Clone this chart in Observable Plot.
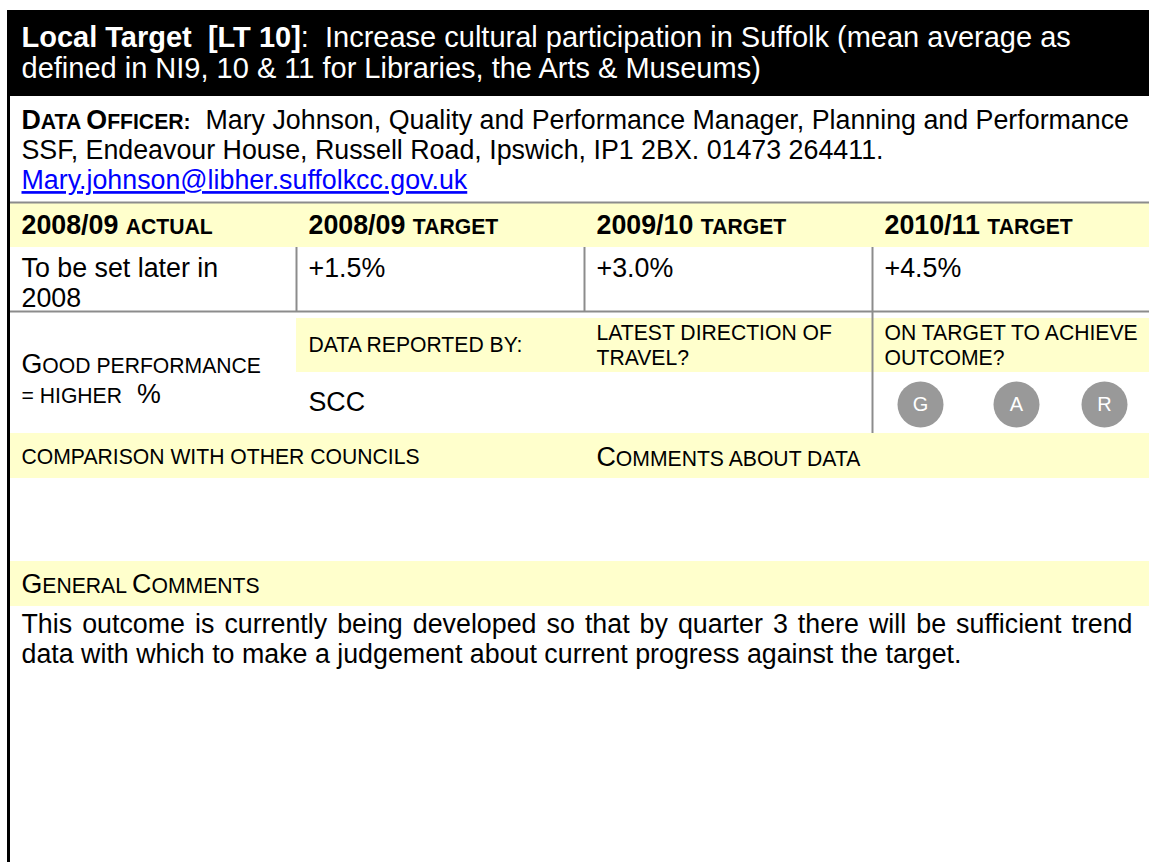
<!DOCTYPE html>
<html>
<head>
<meta charset="utf-8">
<script src="https://cdn.jsdelivr.net/npm/d3@7"></script>
<script src="https://cdn.jsdelivr.net/npm/@observablehq/plot@0.6"></script>
<style>
  html, body { margin: 0; padding: 0; background: #ffffff; }
  #chart svg { display: block; }
</style>
</head>
<body>
<div id="chart"></div>
<script>
// ---------------- data (text content) ----------------
const targetTitle = "Local Target  [LT 10]";
const targetDesc = [
  "Increase cultural participation in Suffolk (mean average as",
  "defined in NI9, 10 & 11 for Libraries, the Arts & Museums)"
];
const officerLabel = "Data Officer:";
const officerLines = [
  "Mary Johnson, Quality and Performance Manager, Planning and Performance",
  "SSF, Endeavour House, Russell Road, Ipswich, IP1 2BX. 01473 264411."
];
const officerEmail = "Mary.johnson@libher.suffolkcc.gov.uk";
const periods = ["2008/09", "2008/09", "2009/10", "2010/11"];
const measures = ["actual", "target", "target", "target"];
const values = ["To be set later in\n2008", "+1.5%", "+3.0%", "+4.5%"];
const polarity = ["Good performance", "= higher", "%"];
const reportedByLabel = "data reported by:";
const reportedBy = "SCC";
const directionLabel = "latest direction of\ntravel?";
const onTargetLabel = "on target to achieve\noutcome?";
const ragRatings = ["G", "A", "R"];
const comparisonLabel = "comparison with other councils";
const commentsLabel = "Comments about data";
const generalLabel = "General Comments";
const generalComments = [
  "This outcome is currently being developed so that by quarter 3 there will be sufficient trend",
  "data with which to make a judgement about current progress against the target."
];

// ---------------- layout & style ----------------
const W = 1149, H = 862;
const FONT = '"Liberation Sans", Arial, Helvetica, sans-serif';
const FS = 26.8;        // body font size
const FT = 29;          // title font size
const SC = 0.79;        // small-caps ratio
const YEL = "#ffffcc";
const GRID = "#8c8c8c";
const cols = [9, 296, 584, 872, 1149];
const padX = 12;
const step = 30;
const L = {
  title: {y1: 10, y2: 96, y: 37, step: 31},
  officer: {y: 120},
  rule1: 202,
  head: {y1: 202, y2: 247, y: 225},
  vals: {y: 268, y2: 311},
  sub: {y1: 318, y2: 372, y: 333, step: 25, single: 345},
  perf: {y: 364, y2: 433, value: 402},
  rag: {xs: [920, 1016, 1104], y: 404, r: 23, fs: 20},
  comp: {y1: 433, y2: 478, y: 457},
  gen: {y1: 561, y2: 606, y: 584, body: 624},
  justifyTo: 1132
};
const tx = i => cols[i] + padX;

// ---------------- rich text helpers ----------------
const sp = s => s.replace(/  /g, "\u00a0 ");
function plain(str, weight, size = FS) { return [{t: sp(str), size, weight}]; }
function sc(str, weight, size = FS) {
  const runs = [];
  for (const ch of str) {
    let small;
    if (/[a-z]/.test(ch)) small = true;
    else if (/[A-Z0-9%]/.test(ch)) small = false;
    else small = runs.length ? runs[runs.length - 1].small : true;
    const t = small ? ch.toUpperCase() : ch;
    const last = runs[runs.length - 1];
    if (last && last.small === small) last.t += t;
    else runs.push({t, small});
  }
  return runs.map(r => ({t: sp(r.t), size: r.small ? size * SC : size, weight}));
}
const items = [];
function add(segs, x, y, extra = {}) {
  items.push({segs, text: segs.map(s => s.t).join(""), x, y, size: extra.size || FS, fill: extra.fill || "#000000", ...extra});
}
function addLines(str, mk, x, y, extra = {}) {
  str.split("\n").forEach((line, k) => add(mk(line), x, y + k * (extra.step || step), extra));
}

// title (white on black)
add([...plain(targetTitle, "bold", FT), ...plain(":  " + targetDesc[0], null, FT)], tx(0), L.title.y, {fill: "#ffffff", size: FT});
add(plain(targetDesc[1], null, FT), tx(0), L.title.y + L.title.step, {fill: "#ffffff", size: FT});
// data officer
add([...sc(officerLabel, "bold"), ...plain("  " + officerLines[0])], tx(0), L.officer.y);
add(plain(officerLines[1]), tx(0), L.officer.y + step);
add(plain(officerEmail), tx(0), L.officer.y + 2 * step, {fill: "#0000ff", underline: true});
// header row
periods.forEach((p, i) => add([...plain(p + " ", "bold"), ...sc(measures[i], "bold")], tx(i), L.head.y));
// values row
values.forEach((v, i) => addLines(v, s => plain(s), tx(i), L.vals.y));
// performance block
add(sc(polarity[0]), tx(0), L.perf.y);
add([...sc(polarity[1]), ...plain("  " + polarity[2])], tx(0), L.perf.y + step);
add(sc(reportedByLabel), tx(1), L.sub.single, {size: FS * SC});
add(plain(reportedBy), tx(1), L.perf.value);
addLines(directionLabel, s => sc(s), tx(2), L.sub.y, {size: FS * SC, step: L.sub.step});
addLines(onTargetLabel, s => sc(s), tx(3), L.sub.y, {size: FS * SC, step: L.sub.step});
// comparison / comments
add(sc(comparisonLabel), tx(0), L.comp.y, {size: FS * SC});
add(sc(commentsLabel), tx(2), L.comp.y);
add(sc(generalLabel), tx(0), L.gen.y);
generalComments.forEach((c, k) => add(plain(c), tx(0), L.gen.body + k * step, {justify: k < generalComments.length - 1}));

// ---------------- structure ----------------
const blocks = [
  {x1: 7, x2: W, y1: L.title.y1, y2: L.title.y2, fill: "#000000"},
  {x1: cols[0], x2: W, y1: L.head.y1, y2: L.head.y2, fill: YEL},
  {x1: cols[1], x2: W, y1: L.sub.y1, y2: L.sub.y2, fill: YEL},
  {x1: cols[0], x2: W, y1: L.comp.y1, y2: L.comp.y2, fill: YEL},
  {x1: cols[0], x2: W, y1: L.gen.y1, y2: L.gen.y2, fill: YEL}
];
const hRules = [
  {y: L.rule1, x1: cols[0], x2: W},
  {y: L.vals.y2, x1: cols[0], x2: W}
];
const vRules = [
  {x: cols[1], y1: L.head.y2, y2: L.vals.y2},
  {x: cols[2], y1: L.head.y2, y2: L.vals.y2},
  {x: cols[3], y1: L.head.y2, y2: L.perf.y2}
];

const chart = Plot.plot({
  width: W, height: H,
  margin: 0,
  x: {domain: [0, W], range: [0, W], axis: null},
  y: {domain: [0, H], range: [0, H], axis: null},
  color: {type: "identity"},
  style: {fontFamily: FONT, background: "#ffffff", overflow: "visible"},
  marks: [
    Plot.rect(blocks, {x1: "x1", x2: "x2", y1: "y1", y2: "y2", fill: "fill"}),
    Plot.ruleY(hRules, {y: "y", x1: "x1", x2: "x2", stroke: GRID, strokeWidth: 2}),
    Plot.ruleX(vRules, {x: "x", y1: "y1", y2: "y2", stroke: GRID, strokeWidth: 2}),
    Plot.ruleX([cols[0] - 1], {x: d => d, y1: L.title.y2, y2: H, stroke: "#000000", strokeWidth: 3}),
    Plot.text(items, {x: "x", y: "y", text: "text", fontSize: "size", fill: "fill",
      textAnchor: "start", lineAnchor: "middle"}),
    Plot.dot(ragRatings, {x: (d, i) => L.rag.xs[i], y: () => L.rag.y, r: L.rag.r, fill: "#999999", stroke: "none"}),
    Plot.text(ragRatings, {x: (d, i) => L.rag.xs[i], y: () => L.rag.y, text: d => d, fill: "#ffffff", fontSize: L.rag.fs})
  ]
});
document.getElementById("chart").appendChild(chart);

// ---------------- rich text post-processing ----------------
const byText = new Map(items.map(d => [d.text, d]));
d3.select(chart).selectAll("text").each(function () {
  const d = byText.get(this.textContent);
  if (!d) return;
  const sel = d3.select(this);
  sel.text(null);
  for (const s of d.segs) {
    sel.append("tspan").attr("font-size", s.size).attr("font-weight", s.weight || null).text(s.t);
  }
  if (d.underline) sel.style("text-decoration", "underline");
  if (d.justify) {
    const len = this.getComputedTextLength();
    const spaces = (d.text.match(/ /g) || []).length;
    const extra = (L.justifyTo - d.x - len) / spaces;
    if (extra > 0) sel.attr("word-spacing", extra);
  }
});
</script>
</body>
</html>
